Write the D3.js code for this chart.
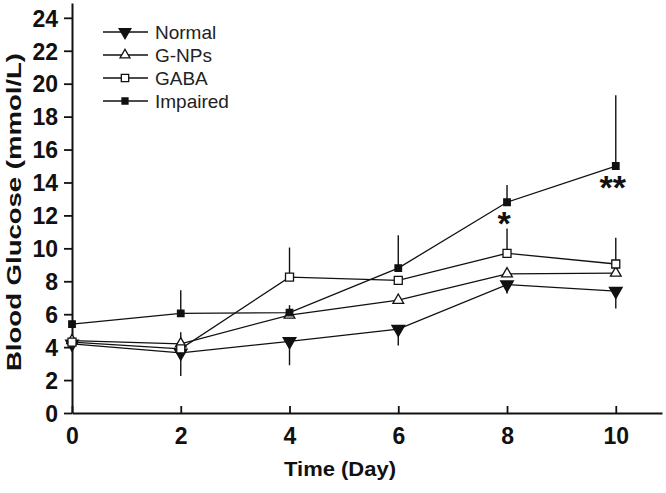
<!DOCTYPE html>
<html><head><meta charset="utf-8">
<script src="https://cdn.jsdelivr.net/npm/d3@7"></script>
<style>html,body{margin:0;padding:0;background:#fff;}svg{display:block;}</style>
</head><body>
<script>
const days = [0, 2, 4, 6, 8, 10];
const seriesNames = ["Normal", "G-NPs", "GABA", "Impaired"];
const normal   = [4.2, 3.65, 4.35, 5.1, 7.8, 7.4];
const gnps     = [4.4, 4.2, 5.95, 6.85, 8.45, 8.5];
const gaba     = [4.3, 3.9, 8.25, 8.05, 9.7, 9.05];
const impaired = [5.4, 6.05, 6.1, 8.8, 12.8, 15.0];
const normalErr   = [0, 1.4, 1.45, 1.0, 0.55, 1.05];   // drawn downward
const gnpsErr     = [0, 0, 0.6, 0, 0, 0];             // drawn upward
const gabaErr     = [0, 1.0, 1.8, 0, 1.5, 1.6];       // drawn upward
const impairedErr = [0, 1.4, 0, 2.0, 1.05, 4.3];      // drawn upward
const xTicks = [0, 2, 4, 6, 8, 10];
const yTicks = [0, 2, 4, 6, 8, 10, 12, 14, 16, 18, 20, 22, 24];
const sigDays = [8, 10];
const sigLabels = ["*", "**"];

const W = 666, H = 493;
const FONT = "'Liberation Sans', Arial, sans-serif";
const svg = d3.select("body").append("svg").attr("width", W).attr("height", H);
const x = d3.scaleLinear().domain([0, 10.85]).range([72, 662]);
const y = d3.scaleLinear().domain([0, 24.9]).range([413, 3]);
const ink = "#111";

// axes
const xAxis = d3.axisBottom(x).tickValues(xTicks).tickSizeInner(-7).tickSizeOuter(0).tickPadding(15);
const gx = svg.append("g").attr("transform", `translate(0,${y(0)})`).call(xAxis);
const yAxis = d3.axisLeft(y).tickValues(yTicks).tickSizeInner(8).tickSizeOuter(0).tickPadding(6);
const gy = svg.append("g").attr("transform", `translate(${x(0)},0)`).call(yAxis);
[gx, gy].forEach(g => {
  g.select(".domain").attr("stroke", ink).attr("stroke-width", 2);
  g.selectAll(".tick line").attr("stroke", ink).attr("stroke-width", 1.8);
  g.selectAll(".tick text").attr("fill", ink)
    .style("font-family", FONT).style("font-weight", "bold").style("font-size", "23px");
});
gx.selectAll(".tick text").attr("dy", "0.71em");
gy.selectAll(".tick text").attr("dy", "0.36em");

// titles
svg.append("text").attr("x", 340).attr("y", 476).attr("text-anchor", "middle")
  .attr("textLength", 112).attr("lengthAdjust", "spacingAndGlyphs")
  .style("font-family", FONT).style("font-weight", "bold")
  .style("font-size", "21px").attr("fill", ink).text("Time (Day)");
svg.append("text").attr("transform", "translate(21,212) rotate(-90)").attr("text-anchor", "middle")
  .attr("textLength", 318).attr("lengthAdjust", "spacingAndGlyphs")
  .style("font-family", FONT).style("font-weight", "bold")
  .style("font-size", "21px").attr("fill", ink).text("Blood Glucose (mmol/L)");

const series = [
  {name: seriesNames[0], vals: normal, err: normalErr, dir: -1, sym: d3.symbolTriangle, size: 70, rot: 180, fill: ink},
  {name: seriesNames[1], vals: gnps, err: gnpsErr, dir: 1, sym: d3.symbolTriangle, size: 50, rot: 0, fill: "#fff"},
  {name: seriesNames[2], vals: gaba, err: gabaErr, dir: 1, sym: d3.symbolSquare, size: 64, rot: 0, fill: "#fff"},
  {name: seriesNames[3], vals: impaired, err: impairedErr, dir: 1, sym: d3.symbolSquare, size: 42, rot: 0, fill: ink}
];

const line = d3.line().x((d, i) => x(days[i])).y(d => y(d));
// error bars
series.forEach(s => {
  svg.append("g").selectAll("line").data(s.vals).join("line")
    .attr("x1", (d, i) => x(days[i])).attr("x2", (d, i) => x(days[i]))
    .attr("y1", d => y(d)).attr("y2", (d, i) => y(d + s.dir * s.err[i]))
    .attr("stroke", ink).attr("stroke-width", 1.4);
});
// lines
series.forEach(s => {
  svg.append("path").datum(s.vals).attr("d", line).attr("fill", "none")
    .attr("stroke", ink).attr("stroke-width", 1.3);
});
// markers
series.forEach(s => {
  svg.append("g").selectAll("path").data(s.vals).join("path")
    .attr("d", d3.symbol().type(s.sym).size(s.size))
    .attr("transform", (d, i) => `translate(${x(days[i])},${y(d)}) rotate(${s.rot})`)
    .attr("fill", s.fill).attr("stroke", ink).attr("stroke-width", 1.3);
});

// significance marks
svg.append("g").selectAll("text").data(sigDays).join("text")
  .attr("x", d => x(d) - 3)
  .attr("y", (d, i) => y(impaired[days.indexOf(d)]) + 33)
  .attr("text-anchor", "middle")
  .style("font-family", FONT).style("font-weight", "bold")
  .style("font-size", "34px").attr("fill", ink)
  .text((d, i) => sigLabels[i]);

// legend
const leg = svg.append("g");
series.forEach((s, i) => {
  const ly = 32 + i * 23;
  leg.append("line").attr("x1", 103).attr("x2", 148).attr("y1", ly).attr("y2", ly)
    .attr("stroke", ink).attr("stroke-width", 1.3);
  leg.append("path").attr("d", d3.symbol().type(s.sym).size(s.size * 0.85))
    .attr("transform", `translate(125,${ly}) rotate(${s.rot})`)
    .attr("fill", s.fill).attr("stroke", ink).attr("stroke-width", 1.3);
  leg.append("text").attr("x", 155).attr("y", ly).attr("dy", "0.35em")
    .style("font-family", FONT).style("font-size", "19px")
    .attr("fill", "#222").text(s.name);
});
</script>
</body></html>
